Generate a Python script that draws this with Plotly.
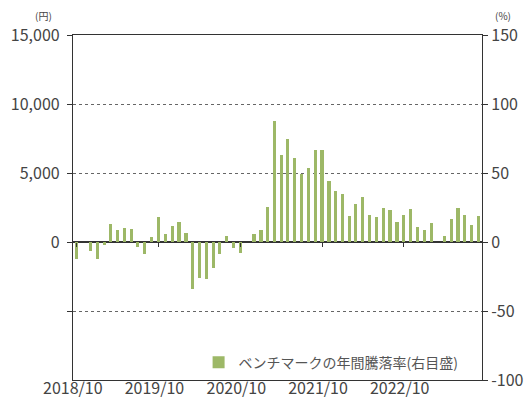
import plotly.graph_objects as go
import pandas as pd

# Monthly dates (2018/10 .. 2023/09)
months = pd.date_range("2018-10-01", periods=60, freq="MS").strftime("%Y-%m-%d").tolist()

# Benchmark annual return (%) - right axis
returns = [
    -12.5, 0, -6.5, -12, -2, 13, 9, 10.5, 9.5, -3.5,
    -9, 3.5, 18, 6, 11.5, 14.5, 6.5, -34, -26, -26.5,
    -19, -9, 4, -4.5, -8, 0, 6, 9, 25.5, 88,
    63, 75, 61, 49, 53.5, 66.5, 66.5, 44.5, 37, 35,
    18.5, 27.5, 32.5, 19.6, 18.4, 25, 23.5, 14.5, 19.6, 24,
    10.6, 8.7, 14, 0, 4, 16.4, 24.4, 19.6, 12, 18.8,
]

x_tick_dates = ["2018-10-01", "2019-10-01", "2020-10-01", "2021-10-01", "2022-10-01"]
x_tick_text = ["2018/10", "2019/10", "2020/10", "2021/10", "2022/10"]

left_tickvals = [-5000, 0, 5000, 10000, 15000]
left_ticktext = ["", "0", "5,000", "10,000", "15,000"]
right_tickvals = [-100, -50, 0, 50, 100, 150]
right_ticktext = ["-100", "-50", "0", "50", "100", "150"]

series_name = "ベンチマークの年間騰落率(右目盛)"

FONT = "Noto Sans CJK JP"
TXT = "#444444"
TICKSIZE = 16

fig = go.Figure()
fig.add_trace(go.Bar(
    x=months, y=returns, yaxis="y2", name=series_name,
    marker=dict(color="#9db867", line=dict(width=0)),
    width=14 * 86400000,
    showlegend=True,
))
# invisible helper traces so the left axis and the zero-line tick axis are drawn
fig.add_trace(go.Scatter(x=[months[0]], y=[0], xaxis="x", yaxis="y", mode="markers",
                         marker=dict(opacity=0), showlegend=False, hoverinfo="skip"))
fig.add_trace(go.Scatter(x=[months[0]], y=[0], xaxis="x2", yaxis="y2", mode="markers",
                         marker=dict(opacity=0), showlegend=False, hoverinfo="skip"))

xrange = ["2018-09-14", "2023-09-16"]

fig.update_layout(
    width=524, height=393,
    margin=dict(l=65, r=50, t=27, b=21, autoexpand=False),
    paper_bgcolor="white", plot_bgcolor="white",
    font=dict(family=FONT, size=TICKSIZE, color=TXT),
    bargap=0,
    xaxis=dict(
        type="date", range=xrange, automargin=False,
        tickvals=x_tick_dates, ticktext=x_tick_text,
        ticks="", showgrid=False, zeroline=False,
        showline=True, linecolor="#333333", linewidth=1.2, mirror=True,
        tickfont=dict(size=TICKSIZE, color=TXT),
        ticklabelstandoff=-6, ticklabelshift=-4,
    ),
    xaxis2=dict(
        type="date", overlaying="x", anchor="free", position=0.4,
        range=xrange, automargin=False,
        tickvals=x_tick_dates, showticklabels=False,
        ticks="outside", ticklen=4, tickcolor="#333333",
        showgrid=False, zeroline=False, showline=False,
    ),
    yaxis=dict(
        range=[-10000, 15000], automargin=False,
        tickvals=left_tickvals, ticktext=left_ticktext,
        ticks="outside", ticklen=5, tickcolor="#333333",
        showgrid=False, zeroline=False,
        showline=True, linecolor="#333333", linewidth=1.2,
        tickfont=dict(size=TICKSIZE, color=TXT),
        ticklabelstandoff=4,
    ),
    yaxis2=dict(
        range=[-100, 150], overlaying="y", side="right", automargin=False,
        tickvals=right_tickvals, ticktext=right_ticktext,
        ticks="outside", ticklen=5, tickcolor="#333333",
        showgrid=True, gridcolor="#666666", griddash="dot", gridwidth=1,
        zeroline=True, zerolinecolor="#333333", zerolinewidth=1.5,
        showline=True, linecolor="#333333", linewidth=1.2,
        tickfont=dict(size=TICKSIZE, color=TXT),
    ),
    legend=dict(
        x=0.955, y=0.05, xanchor="right", yanchor="middle",
        bgcolor="rgba(255,255,255,0)", font=dict(size=14, color="#555555"),
    ),
    annotations=[
        dict(text="(円)", xref="paper", yref="paper", x=-0.071, y=1.0, yshift=20,
             showarrow=False, font=dict(size=10, color=TXT), xanchor="center", yanchor="middle"),
        dict(text="(%)", xref="paper", yref="paper", x=1.051, y=1.0, yshift=20,
             showarrow=False, font=dict(size=10, color=TXT), xanchor="center", yanchor="middle"),
    ],
)

fig.write_html("out.html")
